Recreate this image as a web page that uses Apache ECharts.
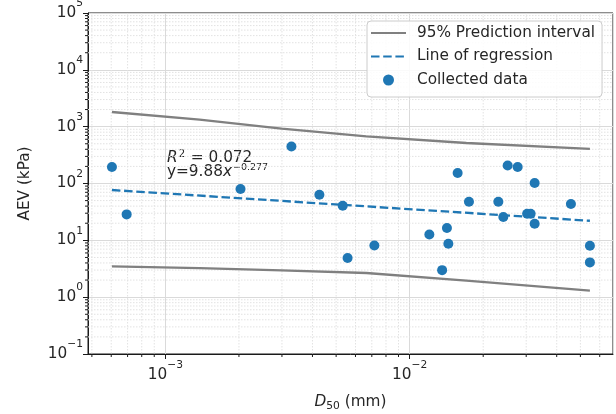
<!DOCTYPE html>
<html>
<head>
<meta charset="utf-8">
<script src="https://cdn.jsdelivr.net/npm/echarts@6/dist/echarts.min.js"></script>
<style>
  html, body { margin: 0; padding: 0; background: #fff; }
  #chart { width: 616px; height: 414px; }
</style>
</head>
<body>
<div id="chart"></div>
<script>
// Median grain size D50 (mm) and air-entry value AEV (kPa) of the collected samples
const d50 = [6.04e-4, 6.94e-4, 2.03e-3, 3.28e-3, 4.27e-3, 5.32e-3, 5.57e-3, 7.17e-3,
  0.01204, 0.01421, 0.01440, 0.01358, 0.01572, 0.01749, 0.02307, 0.02418, 0.02519,
  0.02768, 0.03027, 0.03128, 0.03249, 0.03249, 0.04573, 0.0547, 0.0547];
const aev = [195, 28.6, 80.0, 449, 63.5, 40.7, 4.89, 8.14,
  12.7, 16.5, 8.72, 2.99, 153, 47.8, 47.8, 25.7, 208,
  195, 29.4, 29.4, 102, 19.6, 43.5, 8.04, 4.09];

// Fitted power law y = 9.88 x^-0.277, end points over the sampled range
const regD50 = [6.04e-4, 0.0547];
const regAev = [76.9, 22.1];

// 95% prediction band
const bandD50 = [6.04e-4, 1.38e-3, 2.99e-3, 6.65e-3, 0.01707, 0.0547];
const bandUpper = [1811, 1326, 920, 674, 516, 405];
const bandLower = [3.48, 3.24, 2.97, 2.66, 1.95, 1.30];

// Axis ranges
const xRange = [4.82e-4, 0.068];
const yRange = [0.1, 1e5];

// Annotation texts
const fitR2 = '0.072';
const fitCoef = '9.88';
const fitExp = '\u22120.277';

const FONT = 'DejaVu Sans';
const INK = '#262626';

// minor ticks at 2..9 x 10^k inside a range
function minorTicks(range) {
  const out = [];
  const k0 = Math.floor(Math.log10(range[0]));
  const k1 = Math.ceil(Math.log10(range[1]));
  for (let k = k0; k < k1; k++) {
    for (let m = 2; m <= 9; m++) {
      const v = m * Math.pow(10, k);
      if (v > range[0] && v < range[1]) out.push(v);
    }
  }
  return out;
}
const xMinor = minorTicks(xRange);
const yMinor = minorTicks(yRange);

const zip = (a, b) => a.map((v, i) => [v, b[i]]);

function powLabel(v) {
  const e = Math.round(Math.log10(v));
  return '{b|10}{s|' + (e < 0 ? '\u2212' + (-e) : String(e)) + '}';
}
const tickRich = {
  b: { fontFamily: FONT, fontSize: 15.3, color: INK, lineHeight: 30 },
  s: { fontFamily: FONT, fontSize: 10.7, color: INK, lineHeight: 11, verticalAlign: 'top' }
};

const MAJOR_GRID = { color: '#dadada', width: 1, type: 'solid' };
const MINOR_GRID = { stroke: '#e2e2e2', lineWidth: 1, lineDash: [1.5, 1.5] };
const TICK = { stroke: '#1a1a1a', lineWidth: 1 };

function renderMinorX(params, api) {
  const cs = params.coordSys;
  const x = api.coord([api.value(0), yRange[0]])[0];
  const yb = cs.y + cs.height;
  return {
    type: 'group',
    children: [
      { type: 'line', shape: { x1: x, y1: cs.y, x2: x, y2: yb }, style: MINOR_GRID },
      { type: 'line', shape: { x1: x, y1: yb, x2: x, y2: yb + 3 }, style: TICK }
    ]
  };
}
function renderMinorY(params, api) {
  const cs = params.coordSys;
  const y = api.coord([xRange[0], api.value(1)])[1];
  return {
    type: 'group',
    children: [
      { type: 'line', shape: { x1: cs.x, y1: y, x2: cs.x + cs.width, y2: y }, style: MINOR_GRID },
      { type: 'line', shape: { x1: cs.x - 3, y1: y, x2: cs.x, y2: y }, style: TICK }
    ]
  };
}

const chart = echarts.init(document.getElementById('chart'), null, { renderer: 'canvas' });

chart.setOption({
  animation: false,
  backgroundColor: '#ffffff',
  grid: {
    left: 88, top: 13, right: 3, bottom: 60,
    containLabel: false, outerBoundsMode: 'none',
    show: true, borderColor: '#1a1a1a', borderWidth: 1, backgroundColor: 'transparent'
  },
  xAxis: {
    type: 'log', logBase: 10, min: xRange[0], max: xRange[1],
    axisLine: { show: true, lineStyle: { color: '#1a1a1a', width: 1 } },
    axisTick: { show: true, length: 5, lineStyle: { color: '#1a1a1a', width: 1 } },
    axisLabel: {
      margin: 6, showMinLabel: false, showMaxLabel: false,
      formatter: powLabel, rich: tickRich
    },
    splitLine: { show: true, lineStyle: MAJOR_GRID },
    name: '{i|D}{sub|50}{n| (mm)}',
    nameLocation: 'middle', nameGap: 38,
    nameTextStyle: {
      rich: {
        i: { fontFamily: FONT, fontStyle: 'italic', fontSize: 15.3, color: INK, lineHeight: 20 },
        sub: { fontFamily: FONT, fontSize: 10.7, color: INK, lineHeight: 14, verticalAlign: 'bottom' },
        n: { fontFamily: FONT, fontSize: 15.3, color: INK, lineHeight: 20 }
      }
    }
  },
  yAxis: {
    type: 'log', logBase: 10, min: yRange[0], max: yRange[1],
    axisLine: { show: true, lineStyle: { color: '#1a1a1a', width: 1 } },
    axisTick: { show: true, length: 5, lineStyle: { color: '#1a1a1a', width: 1 } },
    axisLabel: { margin: 5, formatter: powLabel, rich: tickRich },
    splitLine: { show: true, lineStyle: MAJOR_GRID },
    name: 'AEV (kPa)',
    nameLocation: 'middle', nameGap: 55,
    nameTextStyle: { fontFamily: FONT, fontSize: 15.3, color: INK }
  },
  legend: {
    orient: 'vertical', left: 367, top: 21,
    itemWidth: 35, itemHeight: 11, itemGap: 7.5,
    padding: [4, 7, 9, 3],
    backgroundColor: 'rgba(255,255,255,0.85)',
    borderColor: '#cccccc', borderWidth: 1, borderRadius: 4,
    textStyle: { fontFamily: FONT, fontSize: 15.3, color: INK, lineHeight: 16, padding: [0, 0, 0, 6] },
    data: [
      { name: '95% Prediction interval', itemStyle: { opacity: 0 } },
      { name: 'Line of regression', itemStyle: { opacity: 0 } },
      { name: 'Collected data' }
    ],
    selectedMode: false
  },
  graphic: [
    {
      type: 'text', x: 167, y: 158.3, silent: true,
      style: {
        text: '{i|R}{s|2}{n| = ' + fitR2 + '}',
        verticalAlign: 'middle', align: 'left',
        rich: {
          i: { fontFamily: FONT, fontStyle: 'italic', fontSize: 15.3, fill: INK, lineHeight: 17 },
          s: { fontFamily: FONT, fontSize: 10, fill: INK, lineHeight: 10, verticalAlign: 'top', padding: [0, 1, 0, 1] },
          n: { fontFamily: FONT, fontSize: 15.3, fill: INK, lineHeight: 17 }
        }
      }
    },
    {
      type: 'text', x: 167, y: 172.5, silent: true,
      style: {
        text: '{n|y=' + fitCoef + '}{i|x}{s|' + fitExp + '}',
        verticalAlign: 'middle', align: 'left',
        rich: {
          i: { fontFamily: FONT, fontStyle: 'italic', fontSize: 15.3, fill: INK, lineHeight: 19.6 },
          s: { fontFamily: FONT, fontSize: 9.5, fill: INK, lineHeight: 10, verticalAlign: 'top', padding: [0, 0, 0, 1] },
          n: { fontFamily: FONT, fontSize: 15.3, fill: INK, lineHeight: 19.6 }
        }
      }
    }
  ],
  series: [
    {
      type: 'custom', silent: true, z: 1,
      renderItem: renderMinorX,
      data: xMinor.map(v => [v, 1])
    },
    {
      type: 'custom', silent: true, z: 1,
      renderItem: renderMinorY,
      data: yMinor.map(v => [1e-3, v])
    },
    {
      name: '95% Prediction interval', type: 'line', z: 3,
      data: zip(bandD50, bandUpper),
      symbol: 'none', lineStyle: { color: '#808080', width: 2.3 },
      itemStyle: { color: '#808080' }
    },
    {
      name: '95% Prediction interval', type: 'line', z: 3,
      data: zip(bandD50, bandLower),
      symbol: 'none', lineStyle: { color: '#808080', width: 2.3 },
      itemStyle: { color: '#808080' }
    },
    {
      name: 'Line of regression', type: 'line', z: 4,
      data: zip(regD50, regAev),
      symbol: 'none', lineStyle: { color: '#1f77b4', width: 2.3, type: [8.5, 3.7] },
      itemStyle: { color: '#1f77b4' }
    },
    {
      name: 'Collected data', type: 'scatter', z: 5,
      data: zip(d50, aev),
      symbol: 'circle', symbolSize: 10,
      itemStyle: { color: '#1f77b4', opacity: 1 }
    }
  ]
});
</script>
</body>
</html>
